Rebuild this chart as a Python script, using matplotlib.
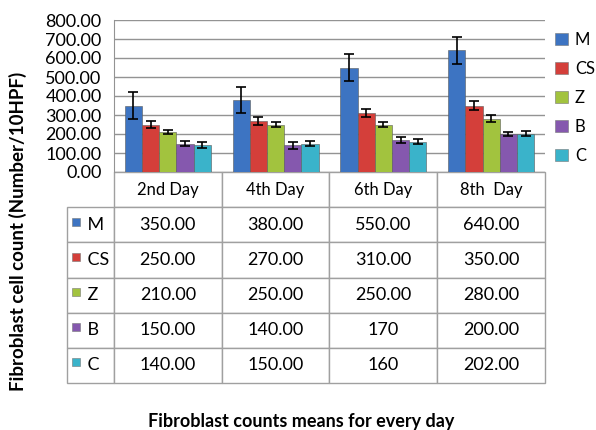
import matplotlib
matplotlib.use('Agg')
import matplotlib.pyplot as plt
from matplotlib.patches import Patch
import numpy as np

plt.rcParams['font.family'] = ['Lato', 'DejaVu Sans']

days = ['2nd Day', '4th Day', '6th Day', '8th  Day']
groups = ['M', 'CS', 'Z', 'B', 'C']
colors = ['#3D74C2', '#D43F3A', '#A2C33E', '#8558AE', '#3AB3CA']

M = [350, 380, 550, 640]
CS = [250, 270, 310, 350]
Z = [210, 250, 250, 280]
B = [150, 140, 170, 200]
C = [140, 150, 160, 202]

M_err = [70, 67, 70, 72]
CS_err = [20, 20, 22, 22]
Z_err = [12, 13, 13, 18]
B_err = [13, 17, 15, 13]
C_err = [16, 14, 14, 13]

# text as printed in the table
M_txt = ['350.00', '380.00', '550.00', '640.00']
CS_txt = ['250.00', '270.00', '310.00', '350.00']
Z_txt = ['210.00', '250.00', '250.00', '280.00']
B_txt = ['150.00', '140.00', '170', '200.00']
C_txt = ['140.00', '150.00', '160', '202.00']

values = [M, CS, Z, B, C]
errors = [M_err, CS_err, Z_err, B_err, C_err]
texts = [M_txt, CS_txt, Z_txt, B_txt, C_txt]

W, H = 596, 430
fig = plt.figure(figsize=(W/100, H/100), dpi=100)
ax = fig.add_axes([114/W, 1-172/H, 431/W, 152/H])

x = np.arange(len(days))
bw = 0.16
for i in range(len(groups)):
    pos = x - 0.4 + bw*(i+0.5)
    ax.bar(pos, values[i], width=bw, color=colors[i], edgecolor='#5a5a5a', linewidth=0.4, zorder=3)
    ax.errorbar(pos, values[i], yerr=errors[i], fmt='none', ecolor='black', elinewidth=1.2, capsize=3.5, capthick=1.2, zorder=4)

ax.set_xlim(-0.5, 3.5)
ax.set_ylim(0, 800)
ax.set_yticks(np.arange(0, 801, 100))
ax.set_yticklabels(['%.2f' % v for v in np.arange(0, 801, 100)], fontsize=13)
ax.set_xticks([])
ax.tick_params(axis='y', length=0, pad=9)
ax.yaxis.grid(True, color='#939393', linewidth=1, zorder=0)
for s in ['top', 'right', 'bottom']:
    ax.spines[s].set_visible(False)
ax.spines['left'].set_color('#939393')

# data table under the chart
cell_text = [[g] + t for g, t in zip(groups, texts)]
tbl = ax.table(cellText=cell_text, colLabels=[''] + days, cellLoc='center',
               colWidths=[47/478] + [108/478]*4,
               bbox=[-47/431, -211/152, 478/431, 211/152])
tbl.auto_set_font_size(False)
tbl.set_fontsize(13)
for (r, c), cell in tbl.get_celld().items():
    cell.set_edgecolor('#a0a0a0')
    cell.set_linewidth(1)
    if r == 0:
        cell.set_text_props(fontsize=12)
    if r == 0 and c == 0:
        cell.visible_edges = ''
    if c == 0 and r > 0:
        cell.get_text().set_text('    ' + groups[r-1])
        cell._loc = 'left'
        cell.get_text().set_ha('left')
        cell.PAD = 0.05

row_h = 211/6
for i, col in enumerate(colors):
    yc = (172 - (172 + row_h*(i+1.5) - 3))/152
    ax.scatter([(76-114)/431], [yc], marker='s', s=40, color=col, edgecolor='#777777',
               linewidth=0.4, transform=ax.transAxes, clip_on=False, zorder=5)

handles = [Patch(facecolor=c, edgecolor='#777777', linewidth=0.4, label=g) for g, c in zip(groups, colors)]
fig.legend(handles=handles, loc='upper left', bbox_to_anchor=(555/W, 1-32/H), frameon=False,
           fontsize=12, handlelength=0.75, handleheight=0.75, handletextpad=0.45, labelspacing=0.78,
           borderaxespad=0, borderpad=0)

fig.text(18/W, 1-231/H, 'Fibroblast cell count (Number/10HPF)', rotation=90, ha='center', va='center',
         fontsize=13.5, fontweight='bold')
fig.text(301/W, 1-421/H, 'Fibroblast counts means for every day', ha='center', va='center',
         fontsize=13, fontweight='bold')

fig.savefig('out.png', dpi=100)
